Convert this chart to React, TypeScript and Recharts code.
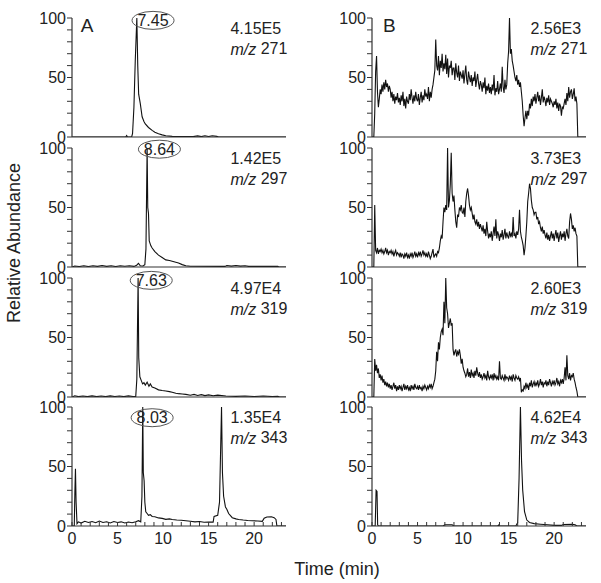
import React from 'react';
import { LineChart, Line, XAxis, YAxis, ReferenceDot } from 'recharts';

// ---------- data ----------
const mzValues = ['271', '297', '319', '343'];
const intensitiesA = ['4.15E5', '1.42E5', '4.97E4', '1.35E4'];
const intensitiesB = ['2.56E3', '3.73E3', '2.60E3', '4.62E4'];
const peakLabels = ['7.45', '8.64', '7.63', '8.03'];
const panelLetters = ['A', 'B'];
const xTickLabels = [0, 5, 10, 15, 20];
const yTickLabels = [0, 50, 100];

// column A traces: [time (min), relative abundance]
const traceA271: [number, number][] = [
  [0, 0], [5.9, 0], [6.0, 1.2], [6.1, 0], [6.55, 0], [6.65, 3], [6.8, 25], [6.95, 65], [7.12, 100],
  [7.22, 60], [7.32, 36], [7.5, 28], [7.7, 17], [7.9, 13], [8.05, 11], [8.4, 8], [8.8, 5.6],
  [9.1, 4], [9.5, 2.8], [9.9, 1.8], [10.3, 1.1], [11, 0.5], [13.3, 0.3], [13.8, 0.9], [14.2, 0.3],
  [14.6, 1], [15, 0.4], [15.4, 1], [15.9, 0.5], [16.1, 0], [23.5, 0],
];
const traceA297: [number, number][] = [
  [0, 0], [0.3, 0.8], [0.8, 0.4], [1.3, 1], [1.8, 0.4], [2.3, 1], [2.8, 0.5], [3.3, 1.2], [3.8, 0.5],
  [4.3, 1], [4.8, 0.4], [5.3, 1.1], [5.8, 0.6], [6.3, 1], [6.8, 0.5], [7.1, 1.5], [7.3, 3], [7.5, 1],
  [7.8, 0.8], [8.0, 2], [8.12, 15], [8.25, 100], [8.32, 50], [8.4, 45], [8.48, 22], [8.65, 18],
  [8.8, 16], [9.1, 13], [9.5, 10], [9.9, 8], [10.3, 6], [10.7, 5.4], [11.0, 4.8], [11.4, 4],
  [11.7, 3.4], [12.1, 2], [12.5, 1], [13, 0.6], [16.8, 0.5], [17.0, 1.3], [17.5, 0.7], [18.0, 1.3],
  [18.5, 0.7], [19.0, 1.1], [19.4, 0.5], [22.6, 0.5], [22.7, 0], [23.5, 0],
];
const traceA319: [number, number][] = [
  [0, 0], [0.3, 1], [0.7, 0.3], [1.2, 0.8], [1.7, 0.3], [2.2, 0.9], [2.7, 0.3], [3.2, 0.8], [3.7, 0.3],
  [4.2, 0.9], [4.7, 0.4], [5.2, 0.8], [5.7, 0.3], [6.2, 0.9], [6.7, 0.4], [7.0, 0.5], [7.12, 15],
  [7.26, 100], [7.33, 33], [7.45, 17], [7.6, 14], [7.75, 11], [7.9, 12], [8.05, 10], [8.25, 12.5],
  [8.45, 9], [8.6, 11], [8.8, 8.4], [9.1, 7.5], [9.5, 6], [9.9, 5.4], [10.3, 5], [10.7, 4.5], [11, 4],
  [11.4, 3.2], [11.7, 2.8], [12.1, 2.5], [12.5, 2.2], [13, 1.5], [13.4, 2.2], [13.8, 1.3], [14.2, 2],
  [14.6, 1.2], [15, 1.8], [15.5, 1], [16, 1.6], [16.9, 0.8], [18, 0.5], [19, 0.9], [20, 0.4],
  [21, 0.8], [22, 0.4], [22.6, 0.6], [22.8, 0], [23.5, 0],
];
const traceA343: [number, number][] = [
  [0, 0], [0.25, 0], [0.32, 30], [0.38, 48], [0.45, 20], [0.55, 2], [0.7, 3.5], [1.0, 2.5], [1.4, 4],
  [1.8, 3], [2.2, 3.8], [2.6, 2.8], [3.0, 4.2], [3.4, 3], [3.8, 3.6], [4.2, 2.6], [4.6, 3.8], [5.0, 3],
  [5.4, 3.5], [5.8, 2.5], [6.2, 3.4], [6.6, 2.8], [7.0, 3.6], [7.3, 4.5], [7.55, 3.5], [7.68, 25],
  [7.77, 100], [7.83, 45], [7.92, 38], [8.0, 20], [8.1, 12], [8.25, 10.5], [8.4, 9], [8.6, 9.5],
  [8.8, 8], [9.1, 7.8], [9.5, 6.8], [9.9, 6.4], [10.3, 5.6], [10.7, 6], [11, 5.5], [11.5, 5], [12, 4.8],
  [12.5, 4.4], [13, 4], [13.5, 3.5], [14, 3.8], [14.5, 3.2], [15, 3.4], [15.5, 3.3], [15.6, 8],
  [16.0, 9], [16.2, 20], [16.42, 100], [16.52, 45], [16.65, 25], [16.85, 16], [17.0, 14], [17.2, 10.5],
  [17.6, 7], [18.0, 6], [18.3, 5.5], [18.8, 5], [19.3, 4.6], [19.8, 4.4], [20.4, 4.2], [20.9, 3.9],
  [21.1, 6.5], [21.4, 7.5], [21.9, 7.8], [22.2, 7], [22.4, 5.5], [22.5, 0], [23.5, 0],
];

// column B traces: sampled every 0.1 min from 0.0 to 23.5
const SAMPLE_STEP = 0.1;
const traceB271: number[] = [
  0, 0, 0, 20, 55, 68, 38, 25, 32, 40,
  36, 44, 38, 46, 40, 48, 42, 45, 38, 43,
  40, 33, 38, 30, 36, 28, 34, 31, 37, 29,
  33, 27, 35, 30, 38, 26, 32, 24, 34, 30,
  28, 36, 31, 40, 33, 28, 35, 30, 38, 32,
  30, 36, 27, 33, 38, 29, 35, 31, 40, 34,
  36, 32, 42, 30, 38, 33, 40, 44, 50, 56,
  82, 60, 56, 68, 52, 64, 58, 70, 55, 62,
  57, 69, 53, 66, 50, 60, 58, 64, 52, 58,
  58, 48, 62, 54, 50, 60, 47, 55, 52, 49,
  56, 45, 53, 60, 48, 44, 55, 50, 46, 52,
  43, 50, 47, 55, 42, 48, 53, 45, 40, 47,
  44, 38, 46, 41, 50, 36, 43, 39, 45, 37,
  42, 36, 44, 39, 52, 35, 41, 38, 47, 36,
  40, 45, 38, 59, 42, 37, 48, 40, 44, 62,
  72, 100, 70, 74, 64, 60, 55, 50, 47, 52,
  44, 48, 42, 46, 38, 30, 18, 9, 16, 22,
  15, 22, 18, 28, 24, 32, 26, 34, 30, 36,
  28, 33, 38, 30, 35, 27, 33, 40, 29, 34,
  31, 26, 33, 29, 35, 27, 32, 30, 28, 25,
  30, 27, 32, 24, 29, 22, 28, 26, 18, 25,
  24, 28, 32, 27, 37, 30, 42, 33, 38, 40,
  32, 36, 41, 30, 34, 28, 0, 0, 0, 0,
  0, 0, 0, 0, 0, 0,
];
const traceB297: number[] = [
  0, 0, 0, 52, 14, 12, 16, 11, 14, 13,
  15, 12, 14, 11, 13, 16, 12, 14, 10, 13,
  12, 14, 11, 13, 9, 12, 14, 10, 12, 11,
  9, 12, 8, 11, 10, 7, 11, 9, 12, 8,
  10, 7, 11, 9, 12, 8, 10, 13, 9, 11,
  8, 12, 10, 13, 9, 11, 14, 10, 12, 9,
  11, 8, 13, 10, 7, 9, 12, 15, 8, 10,
  11, 9, 13, 12, 16, 22, 26, 24, 38, 50,
  46, 52, 48, 100, 50, 56, 70, 96, 62, 55,
  60, 48, 38, 33, 44, 42, 50, 48, 52, 46,
  45, 50, 42, 55, 62, 66, 60, 52, 48, 50,
  45, 40, 44, 38, 36, 40, 34, 38, 32, 36,
  33, 30, 35, 28, 32, 26, 38, 30, 24, 28,
  25, 30, 22, 28, 34, 26, 40, 24, 30, 27,
  22, 28, 25, 31, 23, 27, 32, 24, 29, 26,
  24, 30, 26, 28, 25, 42, 26, 28, 24, 30,
  27, 32, 48, 30, 25, 22, 18, 10, 16, 26,
  38, 55, 62, 70, 66, 56, 50, 48, 44, 46,
  46, 40, 42, 36, 38, 33, 30, 34, 28, 31,
  27, 24, 29, 23, 27, 22, 26, 30, 24, 28,
  22, 27, 31, 24, 29, 21, 26, 30, 23, 28,
  25, 30, 22, 28, 32, 26, 24, 38, 45, 40,
  32, 35, 30, 33, 28, 26, 0, 0, 0, 0,
  0, 0, 0, 0, 0, 0,
];
const traceB319: number[] = [
  0, 0, 0, 32, 22, 27, 20, 24, 16, 19,
  14, 18, 12, 15, 10, 13, 9, 12, 8, 11,
  7, 10, 6, 9, 12, 7, 10, 5, 9, 6,
  10, 7, 9, 5, 8, 11, 6, 9, 7, 10,
  6, 8, 5, 10, 7, 9, 6, 11, 8, 7,
  9, 6, 10, 7, 8, 5, 9, 7, 10, 8,
  6, 9, 7, 10, 8, 11, 7, 9, 12, 15,
  22, 38, 30, 46, 40, 50, 55, 57, 52, 80,
  62, 100, 75, 70, 58, 62, 66, 60, 62, 40,
  35, 38, 40, 34, 38, 36, 40, 35, 28, 32,
  25, 22, 20, 17, 19, 24, 17, 21, 16, 23,
  18, 20, 16, 22, 18, 25, 20, 17, 21, 16,
  19, 15, 17, 20, 16, 18, 14, 22, 17, 15,
  18, 16, 19, 14, 20, 16, 18, 15, 17, 14,
  30, 16, 15, 18, 16, 14, 19, 15, 17, 16,
  14, 18, 15, 17, 13, 19, 16, 14, 18, 16,
  15, 17, 14, 16, 4, 6, 5, 9, 7, 12,
  8, 10, 6, 12, 9, 14, 8, 11, 13, 9,
  12, 10, 14, 9, 11, 15, 10, 13, 8, 12,
  11, 14, 9, 13, 10, 15, 12, 9, 13, 11,
  14, 10, 12, 16, 11, 13, 9, 14, 12, 15,
  11, 16, 25, 14, 35, 18, 15, 20, 14, 18,
  17, 20, 15, 12, 8, 5, 0, 0, 0, 0,
  0, 0, 0, 0, 0, 0,
];
const traceB343: [number, number][] = [
  [0, 0], [0.35, 0], [0.45, 30], [0.55, 29], [0.62, 1], [0.7, 0], [7.8, 0], [8.0, 1], [8.8, 1], [9.0, 0],
  [13.8, 0], [13.9, 0.8], [14, 0], [15.8, 0], [16.0, 3], [16.15, 40], [16.3, 100], [16.42, 55],
  [16.55, 30], [16.75, 12], [17.0, 5], [17.3, 3], [17.8, 2], [18.5, 1.5], [19.3, 1], [20.0, 0.5],
  [20.8, 0.5], [21.0, 1.2], [22.0, 1.5], [22.3, 1], [22.5, 0], [23.5, 0],
];

// ---------- layout / style ----------
const FONT = '"Liberation Sans", Arial, Helvetica, sans-serif';
const TEXT = '#222';
const AXIS = '#333';
const X_MAX = 23.5;
const Y_TICKS = [0, 10, 20, 30, 40, 50, 60, 70, 80, 90, 100];
const X_TICKS = Array.from({ length: 24 }, (_, i) => i);
const ROW_TOPS = [18, 148, 277.5, 407];
const PLOT_H = 119;
const MT = 10;
const PEAK_POS = [
  { t: 8.9, v: 98 },
  { t: 9.6, v: 99 },
  { t: 8.7, v: 98 },
  { t: 8.8, v: 91 },
];
const INFO_POS = { t: 17.4, v: 91 };
const LETTER_POS = [
  { t: 1.65, v: 94 },
  { t: 1.9, v: 94 },
];

const fromPairs = (p: [number, number][]) => p.map(([t, v]) => ({ t, v }));
const fromGrid = (vals: number[]) =>
  vals.map((v, i) => ({ t: Math.round(i * SAMPLE_STEP * 100) / 100, v }));

const seriesA = [traceA271, traceA297, traceA319, traceA343].map(fromPairs);
const seriesB = [fromGrid(traceB271), fromGrid(traceB297), fromGrid(traceB319), fromPairs(traceB343)];

type PanelProps = {
  col: number;
  row: number;
  data: { t: number; v: number }[];
  intensity: string;
  mz: string;
  peak?: string;
};

function Panel({ col, row, data, intensity, mz, peak }: PanelProps) {
  const isLast = row === 3;
  const xh = isLast ? 30 : 8;
  const height = MT + PLOT_H + xh;
  return (
    <div style={{ position: 'absolute', left: col * 300, top: ROW_TOPS[row] - MT }}>
      <LineChart
        width={col === 0 ? 300 : 301}
        height={height}
        data={data}
        margin={{ top: MT, right: col === 0 ? 14 : 15, bottom: 0, left: 0 }}
      >
        <XAxis
          type="number"
          dataKey="t"
          domain={[0, X_MAX]}
          allowDataOverflow
          ticks={isLast ? X_TICKS : []}
          interval={0}
          tick={isLast ? { fontSize: 16, fill: TEXT, fontFamily: FONT } : false}
          tickLine={isLast ? { stroke: AXIS } : false}
          tickSize={-4}
          tickMargin={11}
          tickFormatter={(v: number) => (xTickLabels.includes(v) ? String(v) : '')}
          height={xh}
          axisLine={{ stroke: AXIS, strokeWidth: 1.2 }}
        />
        <YAxis
          type="number"
          domain={[0, 100]}
          allowDataOverflow
          ticks={Y_TICKS}
          interval={0}
          width={72}
          tickSize={5}
          tickMargin={1}
          tick={{ fontSize: 16, fill: TEXT, fontFamily: FONT }}
          tickFormatter={(v: number) => (yTickLabels.includes(v) ? String(v) : '')}
          axisLine={{ stroke: AXIS, strokeWidth: 1.2 }}
          tickLine={{ stroke: AXIS }}
        />
        <Line
          type="linear"
          dataKey="v"
          stroke="#111"
          strokeWidth={1.1}
          dot={false}
          isAnimationActive={false}
        />
        {row === 0 && (
          <ReferenceDot
            x={LETTER_POS[col].t}
            y={LETTER_POS[col].v}
            r={0}
            ifOverflow="visible"
            shape={(p: any) => (
              <text
                x={p.cx}
                y={p.cy}
                textAnchor="middle"
                dominantBaseline="central"
                fontSize={19}
                fill={TEXT}
                fontFamily={FONT}
              >
                {panelLetters[col]}
              </text>
            )}
          />
        )}
        <ReferenceDot
          x={INFO_POS.t}
          y={INFO_POS.v}
          r={0}
          ifOverflow="visible"
          shape={(p: any) => (
            <g fontFamily={FONT} fontSize={16} fill={TEXT}>
              <text x={p.cx} y={p.cy} dominantBaseline="central">
                {intensity}
              </text>
              <text x={p.cx} y={p.cy + 20} dominantBaseline="central">
                <tspan fontStyle="italic">m/z</tspan>
                {' ' + mz}
              </text>
            </g>
          )}
        />
        {peak && (
          <ReferenceDot
            x={PEAK_POS[row].t}
            y={PEAK_POS[row].v}
            r={0}
            ifOverflow="visible"
            shape={(p: any) => (
              <g>
                <ellipse cx={p.cx} cy={p.cy} rx={21} ry={9} fill="none" stroke="#555" strokeWidth={1} />
                <text
                  x={p.cx}
                  y={p.cy}
                  textAnchor="middle"
                  dominantBaseline="central"
                  fontSize={16}
                  fill={TEXT}
                  fontFamily={FONT}
                >
                  {peak}
                </text>
              </g>
            )}
          />
        )}
      </LineChart>
    </div>
  );
}

export default function App() {
  return (
    <div
      style={{
        position: 'absolute',
        left: 0,
        top: 0,
        width: 601,
        height: 583,
        background: '#fff',
        fontFamily: FONT,
        overflow: 'hidden',
      }}
    >
      {mzValues.map((mz, row) => (
        <Panel
          key={'a' + row}
          col={0}
          row={row}
          data={seriesA[row]}
          intensity={intensitiesA[row]}
          mz={mz}
          peak={peakLabels[row]}
        />
      ))}
      {mzValues.map((mz, row) => (
        <Panel key={'b' + row} col={1} row={row} data={seriesB[row]} intensity={intensitiesB[row]} mz={mz} />
      ))}
      <svg
        width={601}
        height={583}
        style={{ position: 'absolute', left: 0, top: 0, pointerEvents: 'none' }}
      >
        <text
          x={13.5}
          y={243}
          transform="rotate(-90 13.5 243)"
          textAnchor="middle"
          dominantBaseline="central"
          fontSize={18}
          fill={TEXT}
          fontFamily={FONT}
        >
          Relative Abundance
        </text>
        <text
          x={337}
          y={569}
          textAnchor="middle"
          dominantBaseline="central"
          fontSize={18}
          fill={TEXT}
          fontFamily={FONT}
        >
          Time (min)
        </text>
      </svg>
    </div>
  );
}
